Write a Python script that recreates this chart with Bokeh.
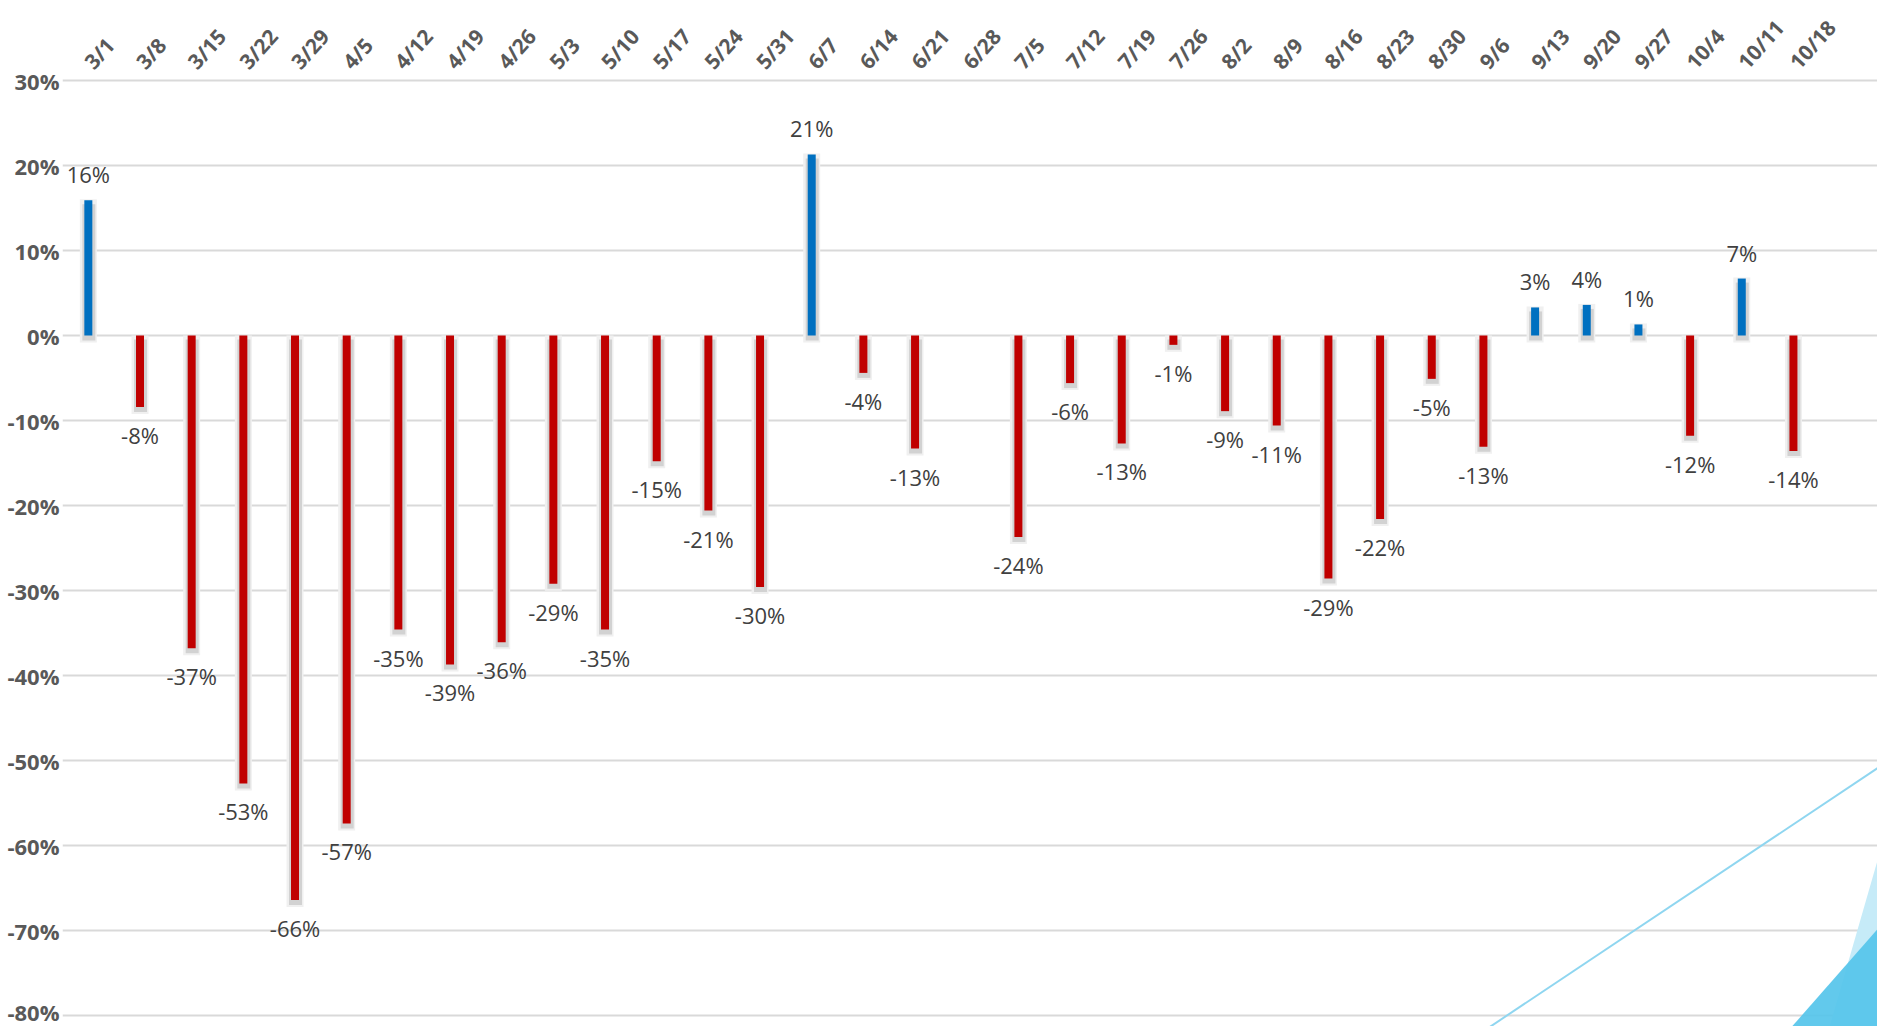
import math
from bokeh.plotting import figure
from bokeh.models import ColumnDataSource, FixedTicker, Range1d
from bokeh.core.properties import value
from bokeh.embed import file_html
from bokeh.resources import INLINE

# ---- data ----
weeks = ["3/1", "3/8", "3/15", "3/22", "3/29", "4/5", "4/12", "4/19", "4/26",
         "5/3", "5/10", "5/17", "5/24", "5/31", "6/7", "6/14", "6/21", "6/28",
         "7/5", "7/12", "7/19", "7/26", "8/2", "8/9", "8/16", "8/23", "8/30",
         "9/6", "9/13", "9/20", "9/27", "10/4", "10/11", "10/18"]
changes = [15.9, -8.4, -36.8, -52.7, -66.4, -57.4, -34.6, -38.7, -36.1,
           -29.2, -34.6, -14.8, -20.6, -29.6, 21.3, -4.4, -13.3, None,
           -23.7, -5.6, -12.7, -1.1, -8.9, -10.6, -28.6, -21.6, -5.1,
           -13.1, 3.3, 3.6, 1.3, -11.8, 6.7, -13.6]
y_ticks = [-80, -70, -60, -50, -40, -30, -20, -10, 0, 10, 20, 30]
y_tick_labels = ["-80%", "-70%", "-60%", "-50%", "-40%", "-30%", "-20%",
                 "-10%", "0%", "10%", "20%", "30%"]

POS_COLOR = "#0070C0"
NEG_COLOR = "#C00000"

# ---- geometry ----
W, H = 1877, 1026
LEFT, TOP = 62, 78
STEP = 51.67          # px per category
UNIT = 8.5            # px per 1 %
PX_X = 1.0 / STEP
PX_Y = 1.0 / UNIT
x0 = -0.5
x1 = x0 + (W - LEFT) * PX_X
y1 = 30 + 2 * PX_Y
y0 = y1 - (H - TOP) * PX_Y

p = figure(width=W, height=H, output_backend="svg", toolbar_location=None,
           x_range=Range1d(x0, x1), y_range=Range1d(y0, y1),
           x_axis_location="above",
           min_border_left=LEFT, min_border_top=TOP,
           min_border_right=0, min_border_bottom=0)
p.outline_line_color = None
p.background_fill_color = "white"
p.border_fill_color = "white"

# ---- decoration (bottom-right theme shapes) ----
def dx(rx):
    return x0 + (rx - LEFT) * PX_X

def dy(ry):
    return y1 - (ry - TOP) * PX_Y

p.patch([dx(1828), dx(1890), dx(1890)], [dy(1030), dy(815), dy(1030)],
        fill_color="#c6ebf8", line_color=None)
p.patch([dx(1788), dx(1890), dx(1890)], [dy(1030), dy(914), dy(1030)],
        fill_color="#55c4ea", fill_alpha=0.92, line_color=None)
p.line([dx(1484), dx(1890)], [dy(1030), dy(759)], line_color="#8fd6f0", line_width=2)

# ---- bars ----
idx = [i for i, v in enumerate(changes) if v is not None]
vals = [changes[i] for i in idx]
tops = [max(v, 0) for v in vals]
bots = [min(v, 0) for v in vals]
colors = [POS_COLOR if v >= 0 else NEG_COLOR for v in vals]
labels = [f"{round(v)}%" for v in vals]
offs = [-26 if v >= 0 else 28 for v in vals]

src = ColumnDataSource(dict(
    x=idx, top=tops, bottom=bots, color=colors, label=labels, off=offs, y=vals,
    sx=[i + 0.5 * PX_X for i in idx],
    stop=[t - 4 * PX_Y for t in tops],
    sbot=[b - 5 * PX_Y for b in bots],
    htop=[t + 1 * PX_Y if t > 0 else t for t in tops],
    hbot=[b - 7 * PX_Y for b in bots],
))

# soft shadow
p.vbar(x="x", top="htop", bottom="hbot", width=17 * PX_X, source=src,
       fill_color="#f0f0f0", line_color=None)
p.vbar(x="sx", top="stop", bottom="sbot", width=13 * PX_X, source=src,
       fill_color="#d2d2d2", line_color=None)
p.vbar(x="x", top="top", bottom="bottom", width=8 * PX_X, source=src,
       fill_color="color", line_color=None)

p.text(x="x", y="y", text="label", source=src, y_offset="off",
       text_align="center", text_baseline="middle",
       text_font=value("Open Sans"), text_font_size="22px", text_color="#404040")

# ---- x axis (top) ----
xa = p.xaxis[0]
xa.ticker = FixedTicker(ticks=list(range(len(weeks))))
xa.major_label_overrides = {i: w for i, w in enumerate(weeks)}
xa.major_label_orientation = math.radians(48)
xa.major_label_text_font = "Open Sans"
xa.major_label_text_font_style = "bold"
xa.major_label_text_font_size = "21px"
xa.major_label_text_color = "#595959"
xa.axis_line_color = None
xa.major_tick_line_color = None
xa.minor_tick_line_color = None
xa.major_tick_in = 0
xa.major_tick_out = 0
xa.major_label_standoff = 13

# ---- y axis ----
ya = p.yaxis[0]
ya.ticker = FixedTicker(ticks=y_ticks)
ya.major_label_overrides = {t: l for t, l in zip(y_ticks, y_tick_labels)}
ya.major_label_text_font = "Open Sans"
ya.major_label_text_font_style = "bold"
ya.major_label_text_font_size = "22px"
ya.major_label_text_color = "#595959"
ya.axis_line_color = None
ya.major_tick_line_color = None
ya.minor_tick_line_color = None
ya.major_tick_in = 0
ya.major_tick_out = 0
ya.major_label_standoff = 3

p.xgrid.grid_line_color = None
p.ygrid.ticker = FixedTicker(ticks=y_ticks)
p.ygrid.grid_line_color = "#d9d9d9"
p.ygrid.grid_line_width = 2

open("out.html", "w").write(file_html(p, INLINE))
